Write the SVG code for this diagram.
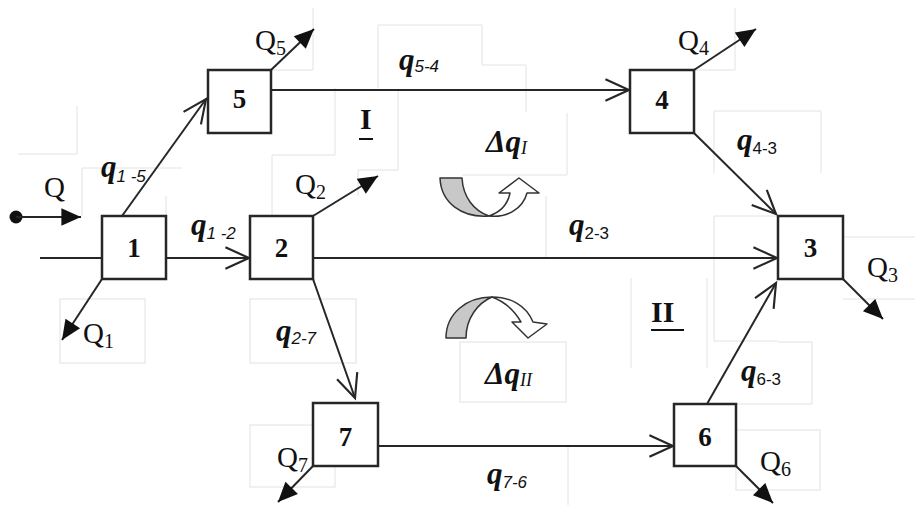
<svg xmlns="http://www.w3.org/2000/svg" width="915" height="505" viewBox="0 0 915 505">
  <style>
    .frame { fill: none; stroke: #e2e2e2; stroke-width: 1; }
    .node rect { fill: #ffffff; stroke: #262626; stroke-width: 2.5; }
    .num { font-family: "Liberation Serif", "Times New Roman", serif; font-weight: bold; font-size: 27px; fill: #111; text-anchor: middle; }
    .edge { fill: none; stroke: #262626; stroke-width: 2; }
    .flow { font-family: "Liberation Serif", "Times New Roman", serif; font-size: 29px; fill: #111; }
    .flow tspan { font-size: 20px; }
    .q { font-family: "Liberation Serif", "Times New Roman", serif; font-size: 31px; font-weight: bold; font-style: italic; fill: #111; }
    .q tspan { font-family: "Liberation Sans", Arial, sans-serif; font-size: 17px; font-weight: normal; }
    .q tspan.up { font-style: normal; }
    .q tspan.rn { font-family: "Liberation Serif", "Times New Roman", serif; font-size: 18px; }
    .roman { font-family: "Liberation Serif", "Times New Roman", serif; font-size: 30px; font-weight: bold; fill: #111; }
    .ul { stroke: #111; stroke-width: 2; }
    .loop-a { fill: #c8c8c8; stroke: #333; stroke-width: 1.5; stroke-linejoin: round; }
    .loop-b { fill: #ffffff; stroke: #333; stroke-width: 1.5; stroke-linejoin: round; }
  </style>
  <defs>
    <marker id="open" markerUnits="userSpaceOnUse" markerWidth="30" markerHeight="30" viewBox="-26 -13 28 26" refX="0" refY="0" orient="auto" overflow="visible">
      <path d="M-22,-10 L0,0 L-22,10" fill="none" stroke="#262626" stroke-width="2"/>
    </marker>
    <marker id="solid" markerUnits="userSpaceOnUse" markerWidth="24" markerHeight="24" viewBox="-20 -10 22 20" refX="0" refY="0" orient="auto" overflow="visible">
      <path d="M-18,-8 L0,0 L-18,8 Z" fill="#111" stroke="none"/>
    </marker>
  </defs>
  <rect width="915" height="505" fill="#ffffff"/>

  <!-- faint label frames -->
  <g id="frames" class="frame">
    <path d="M313,8 V70 H271"/>
    <path d="M77,106 V154 H18"/>
    <path d="M82,216 V168 H182"/>
    <path d="M166,196 V216"/>
    <path d="M335,88 V155 H272 V216"/>
    <path d="M398,90 V170 H358 V196"/>
    <path d="M378,88 V25 H482 V65 H526 V112"/>
    <path d="M462,175 H567 V113"/>
    <path d="M546,196 V258"/>
    <path d="M735,8 V70 H694"/>
    <path d="M714,173 V111 H821 V173"/>
    <path d="M778,216 H714 V341 H778"/>
    <path d="M843,237 H915"/>
    <path d="M843,299 H915"/>
    <path d="M631,278 V368"/>
    <path d="M707,278 V368"/>
    <path d="M778,342 H812 V404 H736"/>
    <rect x="736" y="430" width="84" height="60"/>
    <rect x="460" y="342" width="106" height="60"/>
    <path d="M568,446 V505"/>
    <rect x="60" y="299" width="85" height="64"/>
    <rect x="250" y="299" width="106" height="64"/>
    <rect x="250" y="425" width="85" height="62"/>
  </g>

  <!-- connectors -->
  <g id="connectors">
    <line class="edge" x1="40" y1="258" x2="102" y2="258"/>
    <line class="edge" x1="166" y1="258" x2="249" y2="258" marker-end="url(#open)"/>
    <line class="edge" x1="313" y1="258" x2="777" y2="258" marker-end="url(#open)"/>
    <line class="edge" x1="271" y1="90" x2="629" y2="90" marker-end="url(#open)"/>
    <line class="edge" x1="378" y1="446" x2="673" y2="446" marker-end="url(#open)"/>
    <line class="edge" x1="122" y1="216" x2="206" y2="99" marker-end="url(#open)"/>
    <line class="edge" x1="313" y1="279" x2="355" y2="398" marker-end="url(#open)"/>
    <line class="edge" x1="694" y1="133" x2="776" y2="214" marker-end="url(#open)"/>
    <line class="edge" x1="707" y1="404" x2="776" y2="283" marker-end="url(#open)"/>

    <!-- inflow and outflows -->
    <circle cx="16" cy="217" r="6.5" fill="#111"/>
    <line class="edge" x1="16" y1="217" x2="81" y2="217" marker-end="url(#solid)"/>
    <line class="edge" x1="271" y1="70" x2="314" y2="29" marker-end="url(#solid)"/>
    <line class="edge" x1="313" y1="216" x2="378" y2="176" marker-end="url(#solid)"/>
    <line class="edge" x1="694" y1="70" x2="756" y2="29" marker-end="url(#solid)"/>
    <line class="edge" x1="102" y1="279" x2="62" y2="340" marker-end="url(#solid)"/>
    <line class="edge" x1="313" y1="466" x2="278" y2="502" marker-end="url(#solid)"/>
    <line class="edge" x1="843" y1="279" x2="883" y2="319" marker-end="url(#solid)"/>
    <line class="edge" x1="736" y1="466" x2="773" y2="503" marker-end="url(#solid)"/>
  </g>

  <!-- nodes -->
  <g id="node1" class="node"><rect x="102" y="216" width="64" height="63"/><text class="num" x="134" y="257">1</text></g>
  <g id="node2" class="node"><rect x="250" y="216" width="63" height="63"/><text class="num" x="281.5" y="257">2</text></g>
  <g id="node3" class="node"><rect x="778" y="216" width="65" height="63"/><text class="num" x="810.5" y="257">3</text></g>
  <g id="node4" class="node"><rect x="630" y="70" width="64" height="63"/><text class="num" x="662" y="109">4</text></g>
  <g id="node5" class="node"><rect x="208" y="70" width="63" height="63"/><text class="num" x="239.5" y="108">5</text></g>
  <g id="node6" class="node"><rect x="674" y="404" width="62" height="62"/><text class="num" x="705" y="446">6</text></g>
  <g id="node7" class="node"><rect x="313" y="403" width="65" height="63"/><text class="num" x="345.5" y="446">7</text></g>

  <!-- flow labels -->
  <g id="flow-labels">
    <text class="flow" x="44" y="197">Q</text>
    <text class="flow" x="255" y="50">Q<tspan dy="5">5</tspan></text>
    <text class="flow" x="295" y="194">Q<tspan dy="5">2</tspan></text>
    <text class="flow" x="678" y="50">Q<tspan dy="5">4</tspan></text>
    <text class="flow" x="83" y="343">Q<tspan dy="5">1</tspan></text>
    <text class="flow" x="277" y="467">Q<tspan dy="5">7</tspan></text>
    <text class="flow" x="867" y="277">Q<tspan dy="5">3</tspan></text>
    <text class="flow" x="760" y="471">Q<tspan dy="5">6</tspan></text>

    <text class="q" x="101" y="177">q<tspan dy="5">1 -5</tspan></text>
    <text class="q" x="191" y="235">q<tspan dy="4">1 -2</tspan></text>
    <text class="q" x="399" y="70">q<tspan dy="2">5-4</tspan></text>
    <text class="q" x="737" y="150">q<tspan class="up" dy="4">4-3</tspan></text>
    <text class="q" x="569" y="235">q<tspan class="up" dy="4">2-3</tspan></text>
    <text class="q" x="276" y="341">q<tspan dy="3">2-7</tspan></text>
    <text class="q" x="741" y="381">q<tspan class="up" dy="4">6-3</tspan></text>
    <text class="q" x="487" y="484">q<tspan dy="4">7-6</tspan></text>
    <text class="q" x="486" y="152" font-size="27">Δq<tspan class="rn" dy="2">I</tspan></text>
    <text class="q" x="485" y="384" font-size="27">Δq<tspan class="rn" dy="2">II</tspan></text>
  </g>

  <!-- loop markers -->
  <g id="loop1">
    <text class="roman" x="360" y="129">I</text>
    <line class="ul" x1="359" y1="139" x2="373" y2="139"/>
    <path class="loop-a" d="M440,178 L462,178 C463,197 474,211 489,216 C462,218 441,203 440,178 Z"/>
    <path class="loop-b" d="M489,216 C501,212 508,203 510,193 L499,193 L519,178 L539,193 L527,193 C523,208 508,218 489,216 Z"/>
  </g>
  <g id="loop2">
    <text class="roman" x="651" y="322">II</text>
    <line class="ul" x1="651" y1="330" x2="684" y2="330"/>
    <path class="loop-a" d="M446,338 C446,314 466,297 492,297 C478,303 466,318 466,338 Z"/>
    <path class="loop-b" d="M492,297 C510,297 526,305 533,322 L547,324 L528,338 L512,322 L521,322 C514,310 503,301 492,297 Z"/>
  </g>
</svg>
